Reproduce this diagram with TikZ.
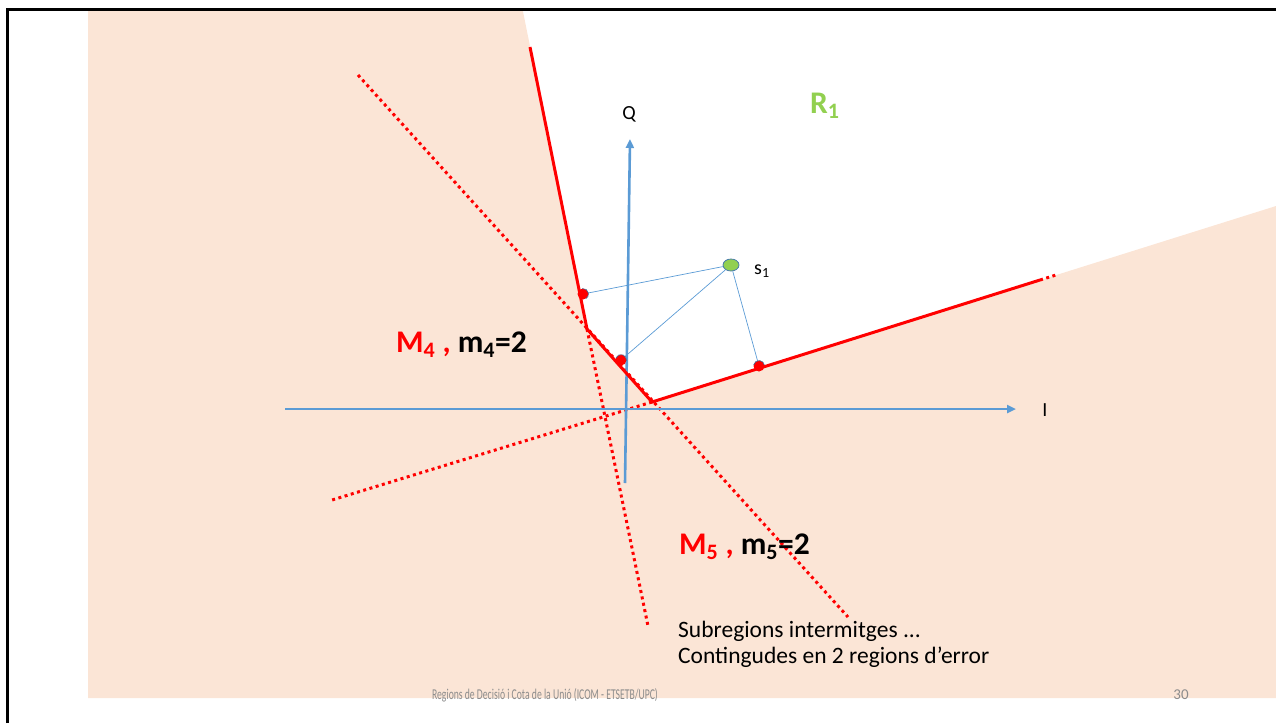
\documentclass[tikz,border=0pt]{standalone}
\usepackage{fontspec}
\setmainfont{Carlito}
\usetikzlibrary{arrows.meta,shapes.geometric}
\definecolor{peach}{HTML}{FBE5D6}
\definecolor{axblue}{HTML}{5B9BD5}
\definecolor{sgreen}{HTML}{92D050}
\definecolor{footgray}{HTML}{8C8C8C}
\tikzset{
  redsolid/.style={draw=red, line width=3pt, line join=miter},
  reddot/.style={draw=red, line width=3pt, dash pattern=on 3pt off 3.5pt},
  axis/.style={draw=axblue, line width=2.6pt, -{Triangle[length=9pt,width=8pt]}},
  thin link/.style={draw=axblue, line width=0.7pt},
  halfdot/.style={fill=red},
  bigbold/.style={font=\fontsize{31.5}{36}\selectfont\bfseries, inner sep=0pt, anchor=base west},
  axlabel/.style={font=\fontsize{20}{24}\selectfont, inner sep=0pt},
  note/.style={font=\fontsize{23.5}{26}\selectfont, inner sep=0pt, anchor=base west, align=left},
  foot/.style={font=\fontsize{15}{17}\selectfont, text=footgray, inner sep=0pt, anchor=base, xscale=0.645},
  pagenum/.style={font=\fontsize{15}{17}\selectfont, text=footgray, inner sep=0pt, anchor=base}
}
\begin{document}
\begin{tikzpicture}[x=1pt,y=-1pt]
\useasboundingbox (0,0) rectangle (1276,723);
% named points
\coordinate (tl) at (88,10);
\coordinate (topcut) at (522.7,10);
\coordinate (redtop) at (530,47);
\coordinate (v1) at (587,329);
\coordinate (v2) at (652,402);
\coordinate (rend) at (1040,280);
\coordinate (rdots) at (1056,275);
\coordinate (redge) at (1276,206);
\coordinate (br) at (1276,698);
\coordinate (bl) at (88,698);
% peach region
\fill[peach] (tl) -- (topcut) -- (v1) -- (v2) -- (redge) -- (br) -- (bl) -- cycle;
% border
\draw[black, line width=3pt] (7,723) -- (7,9) -- (1276,9);
% dotted extensions
\coordinate (dA1) at (358,75);
\coordinate (dA2) at (848,617);
\coordinate (dB2) at (648,626);
\coordinate (dC1) at (332,500);
\draw[reddot] (dA1) -- (dA2);
\draw[reddot] (v1) -- (dB2);
\draw[reddot] (v2) -- (dC1);
\draw[reddot] (rend) -- (rdots);
% axes
\coordinate (Ilo) at (285,409);
\coordinate (Ihi) at (1016,409);
\coordinate (Qlo) at (625,483);
\coordinate (Qhi) at (630,139);
\draw[axis] (Ilo) -- (Ihi);
\draw[axis] (Qlo) -- (Qhi);
\node[axlabel] (Qlab) at (629,114) {Q};
\node[axlabel] (Ilab) at (1045,410) {I};
% red boundary
\draw[redsolid] (redtop) -- (v1) -- (v2) -- (rend);
% s1 and projections
\coordinate (p1) at (583,294);
\coordinate (p2) at (621,360);
\coordinate (p3) at (759,366);
\node[ellipse, minimum width=16pt, minimum height=12pt, inner sep=0pt, fill=sgreen, draw=axblue!80!black, line width=0.8pt] (s1) at (731,265) {};
\draw[thin link] (s1) -- (p1);
\draw[thin link] (s1) -- (p2);
\draw[thin link] (s1) -- (p3);
\fill[halfdot] (p1) circle (5.5pt);
\fill[halfdot] (p2) circle (5.5pt);
\fill[halfdot] (p3) circle (5.5pt);
\draw[axblue!70!black, line width=0.6pt] (p1) ++(100:5.5pt) arc (100:-60:5.5pt);
\draw[axblue!70!black, line width=0.6pt] (p2) ++(160:5.5pt) arc (160:-10:5.5pt);
\draw[axblue!70!black, line width=0.6pt] (p3) ++(170:5.5pt) arc (170:10:5.5pt);
\node[axlabel, anchor=base west] (s1lab) at (754,274) {s$_{\mathrm{1}}$};
% labels
\node[bigbold, text=sgreen] (R1) at (810,113) {R\textsubscript{1}};
\node[bigbold] (M4) at (396,352) {\textcolor{red}{M\textsubscript{4} ,} m\textsubscript{4}=2};
\node[bigbold] (M5) at (679,554) {\textcolor{red}{M\textsubscript{5} ,} m\textsubscript{5}=2};
\node[note] (sub) at (678,663) {Subregions intermitges ...\\Contingudes en 2 regions d’error};
\node[foot] (footer) at (545,699) {Regions de Decisió i Cota de la Unió (ICOM - ETSETB/UPC)};
\node[pagenum] (pg) at (1181,699) {30};
\end{tikzpicture}
\end{document}
